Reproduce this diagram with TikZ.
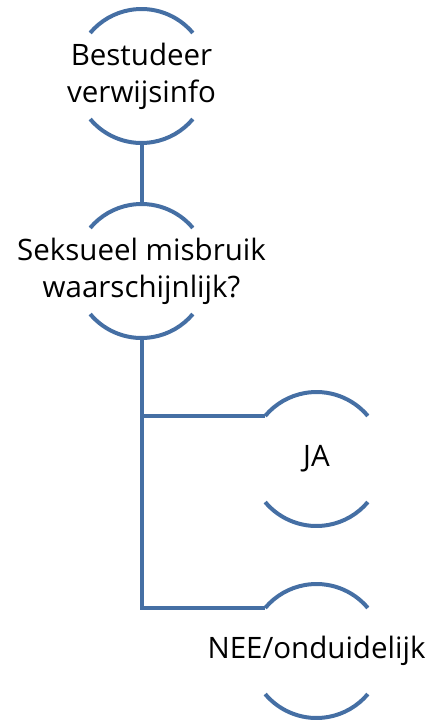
\documentclass[tikz,border=0pt]{standalone}
\usepackage{fontspec}
\setmainfont{Open Sans}
\definecolor{lijnblauw}{RGB}{69,111,164}

\begin{document}
\begin{tikzpicture}[x=1pt,y=1pt,
  stap/.style={circle, minimum size=134pt, inner sep=0pt, outer sep=0pt},
  tekst/.style={align=center, inner sep=0pt, font=\fontsize{29.5}{37}\selectfont},
  boog/.style={line width = 4pt, color=lijnblauw},
  lijn/.style={line width = 4pt, color=lijnblauw}]
\useasboundingbox (0,0) rectangle (435,-723);

%stappen
\node[stap, label={[tekst]center:Bestudeer\\verwijsinfo}] (verwijs) at (141.5,-76) {};
\node[stap, label={[tekst]center:Seksueel misbruik\\waarschijnlijk?}] (misbruik) at (141.5,-271) {};
\node[stap, label={[tekst]center:JA}] (ja) at (316.5,-459) {};
\node[stap, label={[tekst]center:NEE/onduidelijk}] (nee) at (316.5,-651) {};

%bogen boven en onder
\foreach \n in {verwijs,misbruik,ja,nee}{
  \draw[boog] (\n.40) arc (40:140:67pt);
  \draw[boog] (\n.220) arc (220:320:67pt);
}

%verbindingen
\draw[lijn] (verwijs.south) -- (misbruik.north);
\draw[lijn] (misbruik.south) |- (ja.140);
\draw[lijn] (misbruik.south) |- (nee.140);

\end{tikzpicture}
\end{document}
